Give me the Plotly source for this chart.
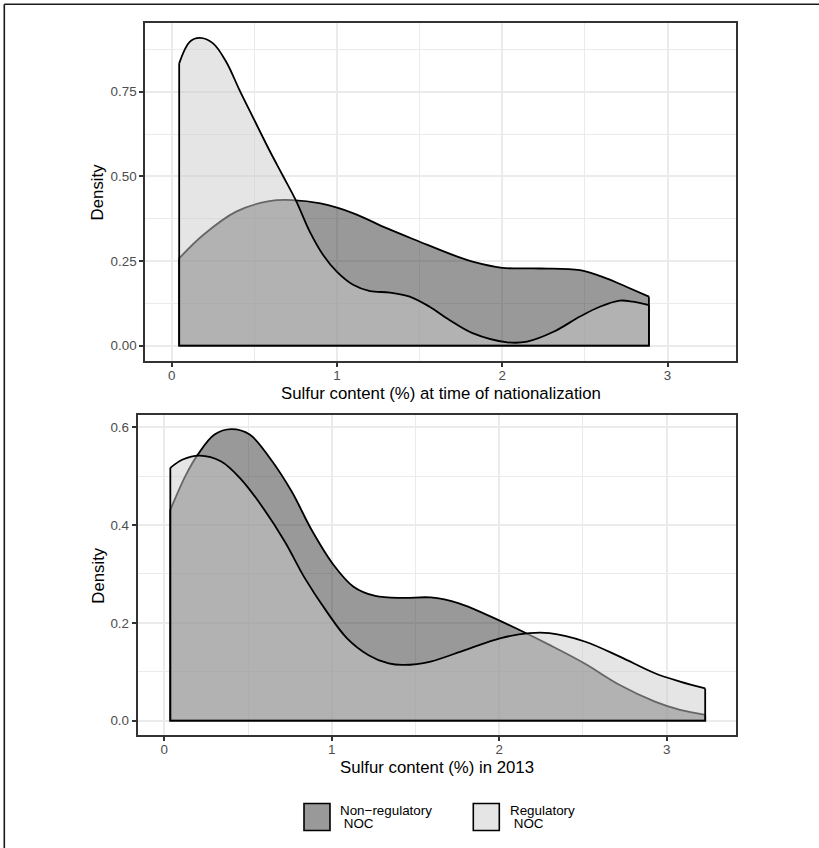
import plotly.graph_objects as go

W, H = 819, 848

# ---------------- data ----------------
legend_line1 = ["Non−regulatory", "Regulatory"]
legend_line2 = ["\u00a0NOC", "\u00a0NOC"]

# Top panel: sulfur content at time of nationalization
top_x_non = [0.045, 0.19, 0.39, 0.59, 0.73, 0.90, 1.10, 1.30, 1.50, 1.70, 1.82, 2.00, 2.23, 2.47, 2.63, 2.75, 2.887]
top_y_non = [0.258, 0.327, 0.396, 0.427, 0.430, 0.420, 0.391, 0.347, 0.307, 0.268, 0.248, 0.230, 0.228, 0.223, 0.199, 0.174, 0.145]
top_x_reg = [0.045, 0.11, 0.17, 0.25, 0.33, 0.41, 0.49, 0.59, 0.67, 0.755, 0.835, 0.916, 1.00, 1.10, 1.20, 1.32, 1.44, 1.56, 1.68, 1.82, 2.03, 2.15, 2.31, 2.47, 2.59, 2.71, 2.79, 2.887]
top_y_reg = [0.834, 0.898, 0.909, 0.893, 0.838, 0.755, 0.676, 0.578, 0.504, 0.425, 0.337, 0.268, 0.218, 0.179, 0.161, 0.157, 0.145, 0.115, 0.076, 0.037, 0.010, 0.012, 0.041, 0.086, 0.115, 0.133, 0.130, 0.120]

# Bottom panel: sulfur content in 2013
bot_x_non = [0.036, 0.13, 0.20, 0.30, 0.40, 0.51, 0.63, 0.76, 0.88, 1.01, 1.13, 1.26, 1.43, 1.59, 1.76, 1.93, 2.10, 2.30, 2.51, 2.72, 2.93, 3.08, 3.23]
bot_y_non = [0.431, 0.503, 0.544, 0.585, 0.596, 0.585, 0.537, 0.469, 0.390, 0.319, 0.274, 0.255, 0.251, 0.252, 0.240, 0.216, 0.189, 0.155, 0.117, 0.073, 0.039, 0.022, 0.012]
bot_x_reg = [0.036, 0.11, 0.21, 0.34, 0.46, 0.59, 0.72, 0.84, 0.97, 1.09, 1.22, 1.34, 1.43, 1.59, 1.80, 2.01, 2.18, 2.30, 2.51, 2.72, 2.93, 3.08, 3.23]
bot_y_reg = [0.517, 0.534, 0.542, 0.530, 0.493, 0.435, 0.366, 0.291, 0.223, 0.169, 0.134, 0.117, 0.114, 0.121, 0.145, 0.169, 0.179, 0.179, 0.162, 0.131, 0.097, 0.080, 0.066]

x_ticks = [0, 1, 2, 3]
x_ticktext = ["0", "1", "2", "3"]
x_minor = [0.5, 1.5, 2.5]
top_y_ticks = [0, 0.25, 0.5, 0.75]
top_y_ticktext = ["0.00", "0.25", "0.50", "0.75"]
top_y_minor = [0.125, 0.375, 0.625, 0.875]
bot_y_ticks = [0, 0.2, 0.4, 0.6]
bot_y_ticktext = ["0.0", "0.2", "0.4", "0.6"]
bot_y_minor = [0.1, 0.3, 0.5]

x_title_top = "Sulfur content (%) at time of nationalization"
x_title_bot = "Sulfur content (%) in 2013"
y_title = "Density"

# ---------------- style ----------------
FONT = "Liberation Sans, Arial, sans-serif"
fills = ["rgba(51,51,51,0.5)", "rgba(204,204,204,0.5)"]
legend_fill = ["#999999", "#e5e5e5"]
LW = 1.8

def px(x):
    return x / W

def py(y):
    return 1 - y / H

fig = go.Figure()

def add_density(xs, ys, fill, xa, ya):
    fig.add_trace(go.Scatter(x=xs, y=ys, mode="lines", fill="tozeroy", fillcolor=fill,
                             line=dict(color="black", width=LW, shape="spline", smoothing=1.0),
                             xaxis=xa, yaxis=ya, showlegend=False, hoverinfo="skip"))
    fig.add_trace(go.Scatter(x=[xs[0], xs[0], xs[-1], xs[-1]], y=[ys[0], 0, 0, ys[-1]],
                             mode="lines", line=dict(color="black", width=LW),
                             xaxis=xa, yaxis=ya, showlegend=False, hoverinfo="skip"))

add_density(top_x_non, top_y_non, fills[0], "x", "y")
add_density(top_x_reg, top_y_reg, fills[1], "x", "y")
add_density(bot_x_non, bot_y_non, fills[0], "x2", "y2")
add_density(bot_x_reg, bot_y_reg, fills[1], "x2", "y2")

common_axis = dict(showline=True, linecolor="#333333", linewidth=2, mirror=True,
                   ticks="outside", ticklen=4, tickwidth=2, tickcolor="#333333",
                   showgrid=True, gridcolor="#ebebeb", gridwidth=2, zeroline=False,
                   tickfont=dict(family=FONT, size=13.4, color="#4d4d4d"))

def minor(vals):
    return dict(tickvals=vals, showgrid=True, gridcolor="#ebebeb", gridwidth=1, ticks="")

fig.update_layout(
    width=W, height=H, template="none",
    margin=dict(l=0, r=0, t=0, b=0),
    paper_bgcolor="white", plot_bgcolor="white",
    showlegend=False, hovermode=False,
    xaxis=dict(domain=[px(145.3), px(736)], range=[-0.16, 3.414], anchor="y",
               tickvals=x_ticks, ticktext=x_ticktext, minor=minor(x_minor),
               ticklabelstandoff=-3, **common_axis),
    yaxis=dict(domain=[py(360.7), py(22.7)], range=[-0.0444, 0.954], anchor="x",
               tickvals=top_y_ticks, ticktext=top_y_ticktext, minor=minor(top_y_minor), **common_axis),
    xaxis2=dict(domain=[px(137.7), px(736)], range=[-0.1588, 3.414], anchor="y2",
                tickvals=x_ticks, ticktext=x_ticktext, minor=minor(x_minor),
                ticklabelstandoff=-3, **common_axis),
    yaxis2=dict(domain=[py(735.3), py(415)], range=[-0.0298, 0.625], anchor="x2",
                tickvals=bot_y_ticks, ticktext=bot_y_ticktext, minor=minor(bot_y_minor), **common_axis),
)

annotations = []
def ann(text, x, y, size, xanchor="center", yanchor="middle", angle=0, color="black"):
    annotations.append(dict(text=text, x=px(x), y=py(y), xref="paper", yref="paper",
                            xanchor=xanchor, yanchor=yanchor, showarrow=False, textangle=angle,
                            font=dict(family=FONT, size=size, color=color)))

ann(x_title_top, 440.7, 393.3, 16.8)
ann(x_title_bot, 436.9, 767.7, 16.8)
ann(y_title, 97.7, 191.7, 16.8, angle=-90)
ann(y_title, 97.7, 575.0, 16.8, angle=-90)

# legend
box_x = [304, 473.3]
txt_x = [338.3, 507.7]
shapes = []
for i in range(2):
    shapes.append(dict(type="rect", xref="paper", yref="paper",
                       x0=px(box_x[i]), x1=px(box_x[i] + 26), y0=py(830.5), y1=py(803.5),
                       fillcolor=legend_fill[i], line=dict(color="black", width=1.6)))
    ann(legend_line1[i], txt_x[i], 810.5, 13.4, xanchor="left")
    ann(legend_line2[i], txt_x[i], 823.8, 13.4, xanchor="left")

# outer frame (top and left edges visible)
shapes.append(dict(type="line", xref="paper", yref="paper", x0=px(4.3), x1=1.0, y0=py(4.3), y1=py(4.3),
                   line=dict(color="#1a1a1a", width=1.6)))
shapes.append(dict(type="line", xref="paper", yref="paper", x0=px(4.3), x1=px(4.3), y0=py(4.3), y1=0.0,
                   line=dict(color="#1a1a1a", width=1.6)))

fig.update_layout(annotations=annotations, shapes=shapes)
fig.write_html("out.html", config={"displayModeBar": False, "staticPlot": True},
               post_script="document.body.style.margin='0';document.body.style.overflow='hidden';")
